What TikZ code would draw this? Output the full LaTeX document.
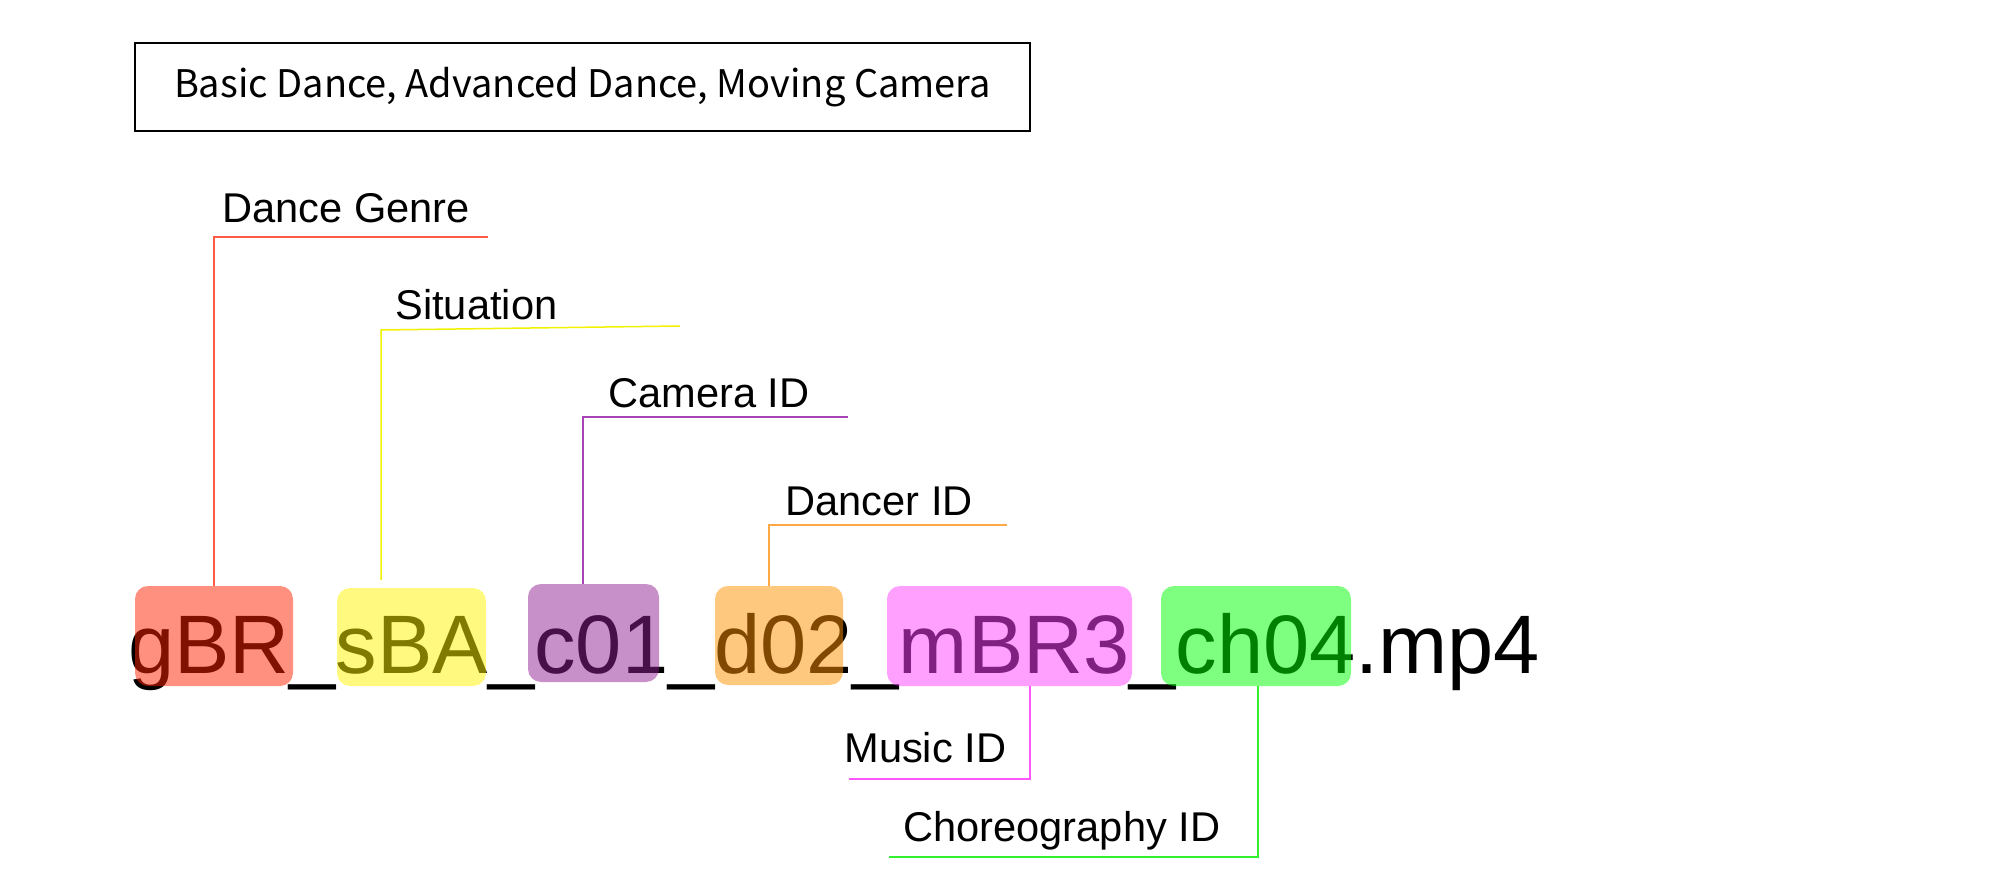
\documentclass[tikz,border=0pt]{standalone}
\usepackage{fontspec}
\setmainfont{Liberation Sans}
\newfontfamily\jpfont{Noto Sans CJK JP}
\definecolor{bRed}{HTML}{FF2000}
\definecolor{bYel}{HTML}{FFF500}
\definecolor{bPur}{HTML}{912191}
\definecolor{bOra}{HTML}{FF9100}
\definecolor{bPin}{HTML}{FF41FF}
\definecolor{bGre}{HTML}{00FF00}
\definecolor{lRed}{HTML}{FF5A45}
\definecolor{lYel}{HTML}{F2F200}
\definecolor{lPur}{HTML}{A545B5}
\definecolor{lOra}{HTML}{FFA845}
\definecolor{lPin}{HTML}{FF55FF}
\definecolor{lGre}{HTML}{30F030}
\tikzset{
  idbox/.style={rounded corners=6.5pt, inner sep=0pt, outer sep=0pt, fill opacity=0.5, draw=none},
  lab/.style={anchor=base west, inner sep=0pt, font=\fontsize{20.8pt}{24pt}\selectfont},
  conn/.style={line width=0.75pt},
}
\begin{document}
\begin{tikzpicture}[x=0.5pt,y=-0.5pt]
\useasboundingbox (0,0) rectangle (1999,893);
% top box
\node[draw, line width=0.8pt, minimum width=447.5pt, minimum height=44pt, inner sep=0pt, font=\jpfont\fontsize{19pt}{22pt}\selectfont] (top) at (582.5,87) {Basic Dance, Advanced Dance, Moving Camera};
% main file name
\node[anchor=base west, inner sep=0pt, font=\fontsize{41.5pt}{48pt}\selectfont] (fname) at (128,673) {gBR\_sBA\_c01\_d02\_mBR3\_ch04.mp4};
% boxes
\node[idbox, fill=bRed, minimum width=79pt, minimum height=50pt] (gbr) at (214,636) {};
\node[idbox, fill=bYel, minimum width=74.5pt, minimum height=49pt] (sba) at (411.5,637) {};
\node[idbox, fill=bPur, minimum width=65.5pt, minimum height=49pt] (c01) at (593.5,633) {};
\node[idbox, fill=bOra, minimum width=64pt, minimum height=49.5pt] (d02) at (779,635.5) {};
\node[idbox, fill=bPin, minimum width=122.5pt, minimum height=50pt] (mbr) at (1009.5,636) {};
\node[idbox, fill=bGre, minimum width=95pt, minimum height=50pt] (ch) at (1256,636) {};
% labels
\node[lab] (lgenre) at (222,223) {Dance Genre};
\node[lab] (lsit) at (395,320) {Situation};
\node[lab] (lcam) at (608,408) {Camera ID};
\node[lab] (ldan) at (785,516) {Dancer ID};
\node[lab] (lmus) at (844,762) {Music ID};
\node[lab] (lcho) at (903,841) {Choreography ID};
% connector coordinates
\coordinate (g1) at (214,237); \coordinate (g2) at (488,237);
\coordinate (s0) at (381,580); \coordinate (s1) at (381,330); \coordinate (s2) at (680,326);
\coordinate (c1) at (583,417); \coordinate (c2) at (848,417);
\coordinate (d1) at (769,525); \coordinate (d2) at (1007,525);
\coordinate (m1) at (1030,779); \coordinate (m2) at (849,779);
\coordinate (h1) at (1258,857); \coordinate (h2) at (889,857);
% connectors
\draw[conn, lRed] (gbr.north -| g1) -- (g1) -- (g2);
\draw[conn, lYel] (s0) -- (s1) -- (s2);
\draw[conn, lPur] (c01.north -| c1) -- (c1) -- (c2);
\draw[conn, lOra] (d02.north -| d1) -- (d1) -- (d2);
\draw[conn, lPin] (mbr.south -| m1) -- (m1) -- (m2);
\draw[conn, lGre] (ch.south -| h1) -- (h1) -- (h2);
\end{tikzpicture}
\end{document}
